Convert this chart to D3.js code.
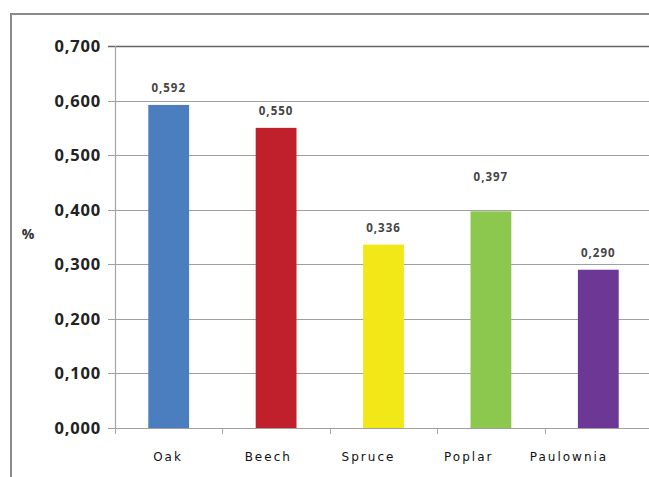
<!DOCTYPE html>
<html>
<head>
<meta charset="utf-8">
<script src="https://cdn.jsdelivr.net/npm/d3@7"></script>
<style>
  body { margin: 0; background: #fff; }
  svg { display: block; }
</style>
</head>
<body>
<svg id="mainsvg" width="649" height="477"></svg>
<script>
// wood species and values
var species = ["Oak", "Beech", "Spruce", "Poplar", "Paulownia"];
var values = [0.592, 0.550, 0.336, 0.397, 0.290];
var colors = ["#4a7ebf", "#c0202c", "#f3e817", "#8cc84e", "#6d3795"];
var yTicks = [0, 0.1, 0.2, 0.3, 0.4, 0.5, 0.6, 0.7];

var svg = d3.select("#mainsvg");
var plotLeft = 115, plotTop = 46, plotBottom = 428, plotRight = 652;

// outer frame (top + left sides visible only)
svg.append("path")
  .attr("d", "M11,477V14H649")
  .attr("fill", "none")
  .attr("stroke", "#8a8a8a")
  .attr("stroke-width", 2);

var x = d3.scaleBand().domain(species).range([plotLeft, plotRight]).paddingInner(0.62).paddingOuter(0.31);
var y = d3.scaleLinear().domain([0, 0.7]).range([plotBottom, plotTop]);
// category labels in the source drift left of their bars
var xLabel = d3.scalePoint().domain(species).range([168, 569]);

var fmt = function (d) { return d3.format(".3f")(d).replace(".", ","); };

// gridlines
svg.append("g")
  .selectAll("line")
  .data(yTicks)
  .enter()
  .append("line")
  .attr("x1", plotLeft - 7)
  .attr("x2", 649)
  .attr("y1", function (d) { return Math.round(y(d)) + 0.5; })
  .attr("y2", function (d) { return Math.round(y(d)) + 0.5; })
  .attr("stroke", function (d) { return d == 0.7 ? "#666" : "#a0a0a0"; })
  .attr("stroke-width", function (d) { return d == 0.7 ? 1.6 : 1.2; });

// y axis line
svg.append("line")
  .attr("x1", plotLeft + 0.5).attr("x2", plotLeft + 0.5)
  .attr("y1", plotTop).attr("y2", plotBottom + 1)
  .attr("stroke", "#a5a5a5").attr("stroke-width", 1.2);

// y tick labels
svg.append("g")
  .selectAll("text")
  .data(yTicks)
  .enter()
  .append("text")
  .attr("x", plotLeft - 14)
  .attr("y", function (d) { return y(d); })
  .attr("dy", "0.36em")
  .attr("text-anchor", "end")
  .attr("font-family", "Open Sans, sans-serif")
  .attr("font-weight", "bold")
  .attr("font-size", 16.5)
  .attr("letter-spacing", 0.8)
  .attr("fill", "#222")
  .text(fmt);

// category ticks under the axis
var bounds = species.map(function (s) { return x(s) - x.step() * x.paddingInner() / 2; });
svg.append("g")
  .selectAll("line")
  .data(bounds)
  .enter()
  .append("line")
  .attr("x1", function (d) { return Math.round(d) + 0.5; })
  .attr("x2", function (d) { return Math.round(d) + 0.5; })
  .attr("y1", plotBottom)
  .attr("y2", plotBottom + 6)
  .attr("stroke", "#a5a5a5");

// bars
svg.append("g")
  .selectAll("rect")
  .data(values)
  .enter()
  .append("rect")
  .attr("x", function (d, i) { return x(species[i]); })
  .attr("width", x.bandwidth())
  .attr("y", function (d) { return y(d); })
  .attr("height", function (d) { return plotBottom - y(d); })
  .attr("fill", function (d, i) { return colors[i]; });

// value labels (the Poplar one sits higher in the source)
svg.append("g")
  .selectAll("text")
  .data(values)
  .enter()
  .append("text")
  .attr("x", function (d, i) { return x(species[i]) + x.bandwidth() / 2; })
  .attr("y", function (d, i) { return y(d) - (species[i] == "Poplar" ? 30 : 13); })
  .attr("text-anchor", "middle")
  .attr("font-family", "Open Sans, sans-serif")
  .attr("font-weight", "bold")
  .attr("font-size", 11.5)
  .attr("letter-spacing", 1)
  .attr("fill", "#444")
  .text(fmt);

// category labels
svg.append("g")
  .selectAll("text")
  .data(species)
  .enter()
  .append("text")
  .attr("x", function (d) { return xLabel(d); })
  .attr("y", 461)
  .attr("text-anchor", "middle")
  .attr("font-family", "DejaVu Sans, sans-serif")
  .attr("font-size", 12)
  .attr("letter-spacing", 2)
  .attr("fill", "#111")
  .text(function (d) { return d; });

// axis title
svg.append("text")
  .attr("x", 28)
  .attr("y", 239)
  .attr("text-anchor", "middle")
  .attr("font-family", "Open Sans, sans-serif")
  .attr("font-weight", "bold")
  .attr("font-size", 14)
  .attr("fill", "#333")
  .text("%");
</script>
</body>
</html>
